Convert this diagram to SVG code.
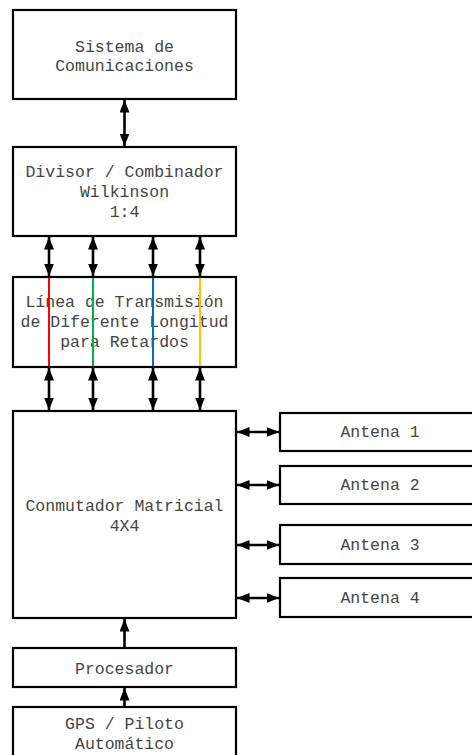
<svg xmlns="http://www.w3.org/2000/svg" width="472" height="755" viewBox="0 0 472 755">
<style>
.box{fill:#fff;stroke:#000;stroke-width:2.2}
.t{font-family:"Liberation Mono","DejaVu Sans Mono",monospace;font-size:16.5px;fill:#444;text-anchor:middle}
.c{stroke:#000;stroke-width:2.6;fill:none}
.d{marker-start:url(#ah);marker-end:url(#ah)}
.u{marker-end:url(#ah)}
</style>
<defs>
<marker id="ah" markerUnits="userSpaceOnUse" markerWidth="13" markerHeight="10" refX="12.5" refY="5" orient="auto-start-reverse">
<path d="M0,0 L12.5,5 L0,10 z" fill="#000"/>
</marker>
</defs>
<g id="sistema">
<rect class="box" x="13" y="10" width="223" height="89"/>
<text class="t" x="124.5" y="52">Sistema de</text>
<text class="t" x="124.5" y="71">Comunicaciones</text>
</g>
<g id="divisor">
<rect class="box" x="13" y="147" width="223" height="89"/>
<text class="t" x="124.5" y="177">Divisor / Combinador</text>
<text class="t" x="124.5" y="197">Wilkinson</text>
<text class="t" x="124.5" y="217">1:4</text>
</g>
<g id="lineas">
<rect class="box" x="13" y="277" width="223" height="90"/>
<text class="t" x="124.5" y="307">Línea de Transmisión</text>
<text class="t" x="124.5" y="327">de Diferente Longitud</text>
<text class="t" x="124.5" y="347">para Retardos</text>
<line x1="49" y1="278" x2="49" y2="366" stroke="#ff0000" stroke-width="2"/>
<line x1="93" y1="278" x2="93" y2="366" stroke="#00b050" stroke-width="2"/>
<line x1="153" y1="278" x2="153" y2="366" stroke="#0070c0" stroke-width="2"/>
<line x1="200" y1="278" x2="200" y2="366" stroke="#ffc000" stroke-width="2"/>
</g>
<g id="conmutador">
<rect class="box" x="13" y="411" width="223" height="207"/>
<text class="t" x="124.5" y="511">Conmutador Matricial</text>
<text class="t" x="124.5" y="531">4X4</text>
</g>
<g id="antena1">
<rect class="box" x="280" y="413" width="200" height="38"/>
<text class="t" x="380" y="437">Antena 1</text>
</g>
<g id="antena2">
<rect class="box" x="280" y="466" width="200" height="38"/>
<text class="t" x="380" y="490">Antena 2</text>
</g>
<g id="antena3">
<rect class="box" x="280" y="525" width="200" height="39"/>
<text class="t" x="380" y="550">Antena 3</text>
</g>
<g id="antena4">
<rect class="box" x="280" y="578" width="200" height="39"/>
<text class="t" x="380" y="603">Antena 4</text>
</g>
<g id="procesador">
<rect class="box" x="13" y="648" width="223" height="39"/>
<text class="t" x="124.5" y="674">Procesador</text>
</g>
<g id="gps">
<rect class="box" x="13" y="707" width="223" height="60"/>
<text class="t" x="124.5" y="729">GPS / Piloto</text>
<text class="t" x="124.5" y="749">Automático</text>
</g>
<g id="connectors">
<line class="c d" x1="124.5" y1="100" x2="124.5" y2="146"/>
<line class="c d" x1="49" y1="237" x2="49" y2="276"/>
<line class="c d" x1="93" y1="237" x2="93" y2="276"/>
<line class="c d" x1="153" y1="237" x2="153" y2="276"/>
<line class="c d" x1="200" y1="237" x2="200" y2="276"/>
<line class="c d" x1="49" y1="368" x2="49" y2="410"/>
<line class="c d" x1="93" y1="368" x2="93" y2="410"/>
<line class="c d" x1="153" y1="368" x2="153" y2="410"/>
<line class="c d" x1="200" y1="368" x2="200" y2="410"/>
<line class="c d" x1="237" y1="432" x2="279" y2="432"/>
<line class="c d" x1="237" y1="485" x2="279" y2="485"/>
<line class="c d" x1="237" y1="545" x2="279" y2="545"/>
<line class="c d" x1="237" y1="598" x2="279" y2="598"/>
<line class="c u" x1="124.5" y1="647" x2="124.5" y2="619"/>
<line class="c u" x1="124.5" y1="706" x2="124.5" y2="688"/>
</g>
</svg>
